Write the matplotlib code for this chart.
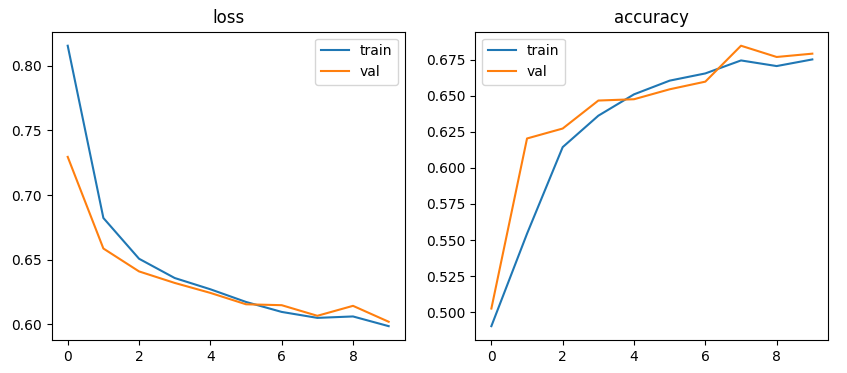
import numpy as np
import matplotlib
matplotlib.use("Agg")
from matplotlib import pyplot as plt

epochs = np.arange(10)

loss_train = [0.8154, 0.6823, 0.6508, 0.6359, 0.6272, 0.6174, 0.6097, 0.6051, 0.6062, 0.5987]
loss_val = [0.7295, 0.6587, 0.6410, 0.6321, 0.6244, 0.6156, 0.6149, 0.6067, 0.6144, 0.6021]

acc_train = [0.4903, 0.5544, 0.6144, 0.6362, 0.6510, 0.6605, 0.6655, 0.6745, 0.6706, 0.6752]
acc_val = [0.5025, 0.6204, 0.6273, 0.6467, 0.6476, 0.6545, 0.6598, 0.6847, 0.6769, 0.6792]

fig, (ax1, ax2) = plt.subplots(1, 2, figsize=(8.47, 3.73), dpi=100)
fig.subplots_adjust(left=0.061, right=0.978, bottom=0.088, top=0.915, wspace=0.2)

ax1.plot(epochs, loss_train, label='train')
ax1.plot(epochs, loss_val, label='val')
ax1.set_title('loss')
ax1.legend(loc='upper right')

ax2.plot(epochs, acc_train, label='train')
ax2.plot(epochs, acc_val, label='val')
ax2.set_title('accuracy')
ax2.legend(loc='upper left')

plt.savefig('out.png')
